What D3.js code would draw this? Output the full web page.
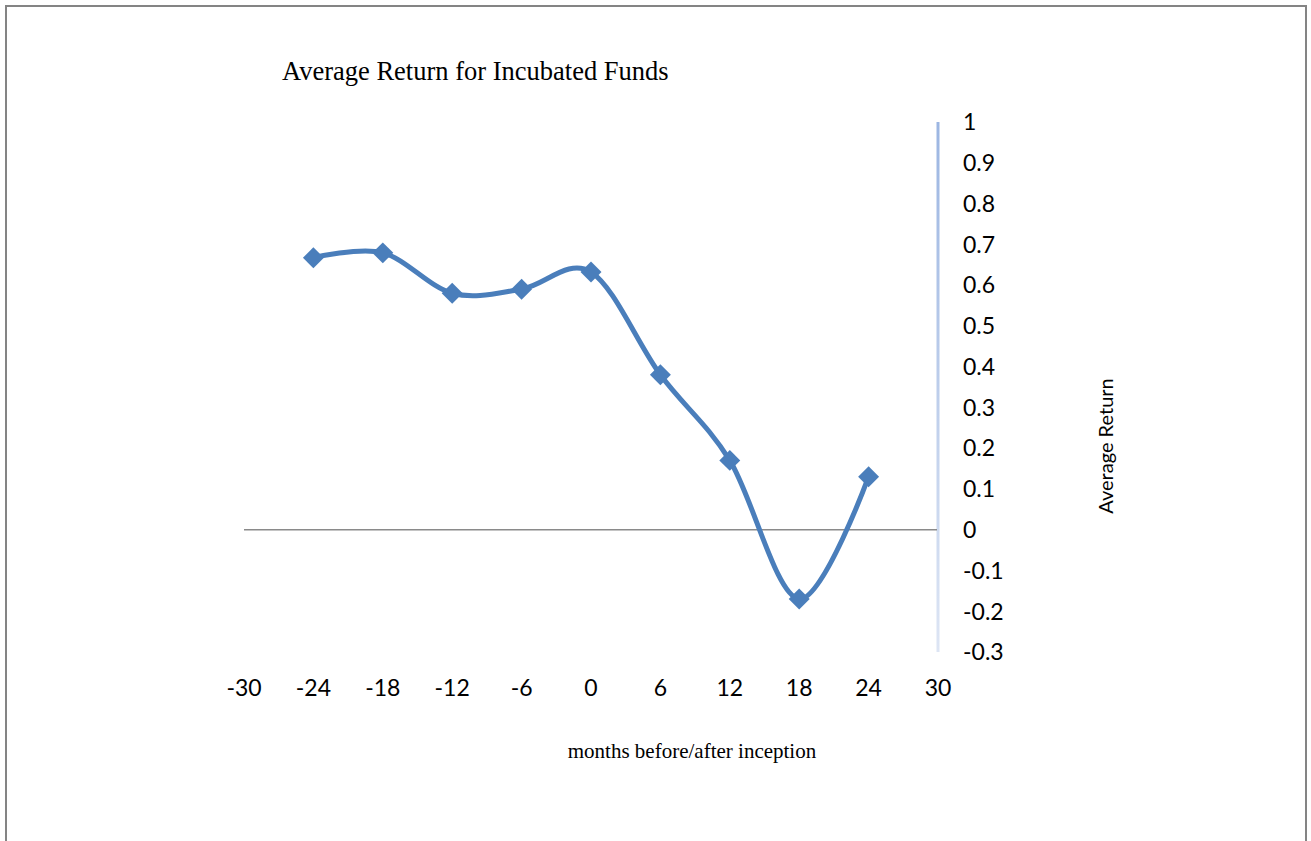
<!DOCTYPE html>
<html><head><meta charset="utf-8">
<script src="https://cdn.jsdelivr.net/npm/d3@7"></script>
<style>html,body{margin:0;padding:0;background:#fff;}</style>
</head><body>
<script>
const months = [-24, -18, -12, -6, 0, 6, 12, 18, 24];
const avgReturn = [0.667, 0.679, 0.580, 0.590, 0.632, 0.380, 0.170, -0.170, 0.130];
const xTicks = [-30, -24, -18, -12, -6, 0, 6, 12, 18, 24, 30];
const yTicks = [1, 0.9, 0.8, 0.7, 0.6, 0.5, 0.4, 0.3, 0.2, 0.1, 0, -0.1, -0.2, -0.3];
const title = "Average Return for Incubated Funds";
const xTitle = "months before/after inception";
const yTitle = "Average Return";

const W = 1311, H = 841;
const svg = d3.select("body").append("svg").attr("width", W).attr("height", H);

// frame
svg.append("path").attr("d", `M6,${H} L6,6 L1306,6 L1306,${H}`)
  .attr("fill", "none").attr("stroke", "#848484").attr("stroke-width", 2);

const x = d3.scaleLinear().domain([-30, 30]).range([244, 938]);
const y = d3.scaleLinear().domain([-0.3, 1]).range([652, 122]);

// gradient for y axis line
const defs = svg.append("defs");
const grad = defs.append("linearGradient").attr("id", "ag").attr("x1", 0).attr("y1", 0).attr("x2", 0).attr("y2", 1);
grad.append("stop").attr("offset", "0%").attr("stop-color", "#9cb6e2");
grad.append("stop").attr("offset", "100%").attr("stop-color", "#dde5f4");

svg.append("rect").attr("x", x(30) - 1.5).attr("y", y(1)).attr("width", 3)
  .attr("height", y(-0.3) - y(1)).attr("fill", "url(#ag)");

// zero line
svg.append("line").attr("x1", x(-30)).attr("x2", x(30) - 1)
  .attr("y1", y(0)).attr("y2", y(0)).attr("stroke", "#8a8a8a").attr("stroke-width", 1.5);

// y tick labels
const sans = "Lato, 'Open Sans', sans-serif";
svg.append("g").selectAll("text").data(yTicks).join("text")
  .attr("x", 963).attr("y", d => y(d)).attr("dy", "0.36em")
  .attr("font-family", sans).attr("font-size", 23).attr("fill", "#000")
  .text(d => String(d));

// x tick labels
svg.append("g").selectAll("text").data(xTicks).join("text")
  .attr("x", d => x(d)).attr("y", 696).attr("text-anchor", "middle")
  .attr("font-family", sans).attr("font-size", 23).attr("fill", "#000")
  .text(d => String(d));

// titles
const serif = "'Liberation Serif', 'Times New Roman', serif";
svg.append("text").attr("x", 282).attr("y", 80)
  .attr("font-family", serif).attr("font-size", 26.5)
  .text(title);
svg.append("text").attr("x", 692).attr("y", 758).attr("text-anchor", "middle")
  .attr("font-family", serif).attr("font-size", 21)
  .text(xTitle);
svg.append("text").attr("transform", "translate(1113,446) rotate(-90)").attr("text-anchor", "middle")
  .attr("font-family", sans).attr("font-size", 20)
  .text(yTitle);

// series
const pts = months.map((m, i) => [m, avgReturn[i]]);
const line = d3.line().x(d => x(d[0])).y(d => y(d[1])).curve(d3.curveCardinal.tension(0));
svg.append("path").attr("d", line(pts)).attr("fill", "none")
  .attr("stroke", "#4a7ebb").attr("stroke-width", 5).attr("stroke-linecap", "round");

const sym = d3.symbol().type(d3.symbolDiamond2).size(280);
svg.append("g").selectAll("path").data(pts).join("path")
  .attr("transform", d => `translate(${x(d[0])},${y(d[1])})`)
  .attr("d", sym).attr("fill", "#4a7ebb");
</script>
</body></html>
